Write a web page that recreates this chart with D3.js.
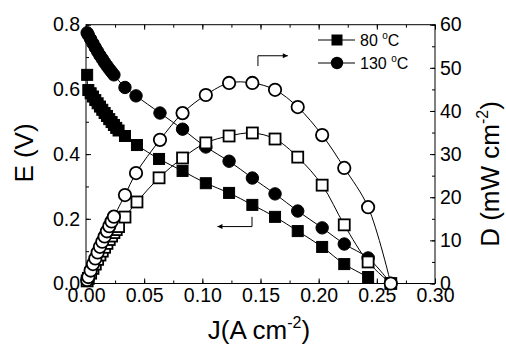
<!DOCTYPE html>
<html><head><meta charset="utf-8">
<script src="https://cdn.jsdelivr.net/npm/d3@7"></script>
<style>
body{margin:0;background:#fff;}
text{font-family:"Liberation Sans",Arial,sans-serif;fill:#000;}
</style></head>
<body>
<svg id="c" width="506" height="344"></svg>
<script>
// ---- data ----
const J_dense = [0.001,0.002,0.004,0.006,0.008,0.010,0.012,0.014,0.016,0.018,0.020,0.022,0.024,0.026,0.028];
const E80_dense = [0.645,0.598,0.588,0.578,0.567,0.557,0.547,0.537,0.527,0.518,0.508,0.499,0.490,0.481,0.473];
const P80_dense = [0.6,1.2,2.4,3.5,4.5,5.6,6.6,7.5,8.4,9.3,10.2,11.0,11.8,12.5,13.2];
const J130_dense = [0.001,0.002,0.004,0.006,0.008,0.010,0.012,0.014,0.016,0.018,0.020,0.022,0.024];
const E130_dense = [0.775,0.768,0.755,0.742,0.729,0.717,0.705,0.694,0.683,0.673,0.663,0.654,0.645];
const P130_dense = [0.8,1.5,3.0,4.5,5.8,7.2,8.5,9.7,10.9,12.1,13.3,14.4,15.5];

const J80 = [0.0335,0.0438,0.0628,0.083,0.103,0.123,0.143,0.1625,0.182,0.203,0.222,0.2425];
const E80 = [0.456,0.428,0.385,0.348,0.310,0.280,0.243,0.206,0.162,0.113,0.060,0.020];
const J80P = [0.0335,0.0438,0.0628,0.083,0.103,0.123,0.143,0.1625,0.182,0.203,0.222,0.2425,0.262];
const P80 = [15.4,18.9,24.5,29.1,32.6,34.2,34.9,33.5,29.3,22.8,13.6,5.0,0.0];

const J130 = [0.0335,0.043,0.0636,0.083,0.103,0.123,0.143,0.1625,0.182,0.203,0.222,0.2425,0.262];
const E130 = [0.606,0.580,0.527,0.477,0.422,0.378,0.326,0.277,0.224,0.172,0.122,0.079,0.0];
const P130 = [20.5,25.6,33.3,39.5,43.7,46.5,46.5,44.9,40.9,34.4,26.8,17.7,0.0];

const xTicks = [0,0.05,0.10,0.15,0.20,0.25,0.30];
const yLTicks = [0,0.2,0.4,0.6,0.8];
const yRTicks = [0,10,20,30,40,50,60];
const legendLabels = ["80 ","130 "];

// ---- layout ----
const svg = d3.select("#c");
const L=86, R=435, T=24.7, B=283.5;
const x = d3.scaleLinear().domain([0,0.3]).range([L,R]);
const yL = d3.scaleLinear().domain([0,0.8]).range([B,T]);
const yR = d3.scaleLinear().domain([0,60]).range([B,T]);

const zip = (a,b)=>a.map((v,i)=>[v,b[i]]);
const s80E = zip(J_dense,E80_dense).concat(zip(J80,E80));
const s80P = zip(J_dense,P80_dense).concat(zip(J80P,P80));
const s130E = zip(J130_dense,E130_dense).concat(zip(J130,E130));
const s130P = zip(J130_dense,P130_dense).concat(zip(J130,P130));

const fmt2 = d3.format(".2f"), fmt1 = d3.format(".1f");
const xMinor = d3.range(0,13).map(i=>i*0.025);
const yLMinor = d3.range(0,9).map(i=>i*0.1);
const yRMinor = d3.range(0,13).map(i=>i*5);

function ax(g, axis){ g.call(axis); g.select(".domain").remove(); g.selectAll("line").attr("stroke","#000").attr("stroke-width",1); }

// minor ticks
ax(svg.append("g").attr("transform",`translate(0,${B})`), d3.axisBottom(x).tickValues(xMinor).tickSize(-3).tickFormat(""));
ax(svg.append("g").attr("transform",`translate(0,${T})`), d3.axisTop(x).tickValues(xMinor).tickSize(-3).tickFormat(""));
ax(svg.append("g").attr("transform",`translate(${L},0)`), d3.axisLeft(yL).tickValues(yLMinor).tickSize(-3).tickFormat(""));
ax(svg.append("g").attr("transform",`translate(${R},0)`), d3.axisRight(yR).tickValues(yRMinor).tickSize(-3).tickFormat(""));
// major ticks
ax(svg.append("g").attr("transform",`translate(0,${B})`), d3.axisBottom(x).tickValues(xTicks).tickSize(-5).tickPadding(5).tickFormat(fmt2));
ax(svg.append("g").attr("transform",`translate(0,${T})`), d3.axisTop(x).tickValues(xTicks).tickSize(-5).tickFormat(""));
ax(svg.append("g").attr("transform",`translate(${L},0)`), d3.axisLeft(yL).tickValues(yLTicks).tickSize(-5).tickPadding(6).tickFormat(fmt1));
ax(svg.append("g").attr("transform",`translate(${R},0)`), d3.axisRight(yR).tickValues(yRTicks).tickSize(-5).tickPadding(5).tickFormat(d3.format("d")));
svg.selectAll(".tick text").attr("font-size",19.5).attr("font-family","Liberation Sans, Arial, sans-serif");

// frame
svg.append("rect").attr("x",L).attr("y",T).attr("width",R-L).attr("height",B-T)
  .attr("fill","none").attr("stroke","#000").attr("stroke-width",1);

// lines
const line = (ys)=>d3.line().x(d=>x(d[0])).y(d=>ys(d[1])).curve(d3.curveCatmullRom.alpha(0.5));
function drawLine(data, ys){
  svg.append("path").datum(data).attr("d",line(ys)).attr("fill","none").attr("stroke","#000").attr("stroke-width",1);
}
const SQ=11, CR=6.2;
function squares(data, ys, filled){
  svg.append("g").selectAll("rect").data(data).join("rect")
    .attr("x",d=>x(d[0])-SQ/2).attr("y",d=>ys(d[1])-SQ/2).attr("width",SQ).attr("height",SQ)
    .attr("fill",filled?"#000":"#fff").attr("stroke","#000").attr("stroke-width",filled?1:1.8);
}
function circles(data, ys, filled){
  svg.append("g").selectAll("circle").data(data).join("circle")
    .attr("cx",d=>x(d[0])).attr("cy",d=>ys(d[1])).attr("r",CR)
    .attr("fill",filled?"#000":"#fff").attr("stroke","#000").attr("stroke-width",filled?1:1.8);
}
drawLine(s80E,yL); drawLine(s130E,yL);
squares(s80E,yL,true); circles(s130E,yL,true);
drawLine(s80P,yR); drawLine(s130P,yR);
squares(s80P,yR,false); circles(s130P,yR,false);

// arrows
svg.append("defs").append("marker").attr("id","ah").attr("viewBox","0 0 10 10").attr("refX",10).attr("refY",5)
  .attr("markerWidth",8).attr("markerHeight",5).attr("orient","auto")
  .append("path").attr("d","M0,0 L10,5 L0,10 z").attr("fill","#000");
svg.append("path").attr("d",`M${x(0.1478)},${yR(50.4)} V${yR(52.8)} H${x(0.1735)}`)
  .attr("fill","none").attr("stroke","#000").attr("stroke-width",1).attr("marker-end","url(#ah)");
svg.append("path").attr("d",`M${x(0.1427)},${yL(0.206)} V${yL(0.176)} H${x(0.113)}`)
  .attr("fill","none").attr("stroke","#000").attr("stroke-width",1).attr("marker-end","url(#ah)");

// legend
const lg = svg.append("g");
[0,1].forEach(i=>{
  const yy = 40 + i*23;
  lg.append("line").attr("x1",318).attr("x2",355).attr("y1",yy).attr("y2",yy).attr("stroke","#000");
  if(i===0) lg.append("rect").attr("x",337-SQ/2).attr("y",yy-SQ/2).attr("width",SQ).attr("height",SQ).attr("fill","#000");
  else lg.append("circle").attr("cx",337).attr("cy",yy).attr("r",CR).attr("fill","#000");
  const t = lg.append("text").attr("x",360).attr("y",yy+6).attr("font-size",16);
  t.append("tspan").text(legendLabels[i]);
  t.append("tspan").attr("font-size",10).attr("dy",-7).text("o");
  t.append("tspan").attr("dy",7).text("C");
});

// axis titles
const tx = svg.append("text").attr("x",259).attr("y",339).attr("text-anchor","middle").attr("font-size",26);
tx.append("tspan").text("J(A cm");
tx.append("tspan").attr("font-size",16).attr("dy",-11).text("-2");
tx.append("tspan").attr("dy",11).text(")");

svg.append("text").attr("transform",`translate(33,153) rotate(-90)`).attr("text-anchor","middle")
  .attr("font-size",26).text("E (V)");

const ty = svg.append("text").attr("transform",`translate(499,174) rotate(-90)`).attr("text-anchor","middle").attr("font-size",26);
ty.append("tspan").text("D (mW cm");
ty.append("tspan").attr("font-size",16).attr("dy",-11).text("-2");
ty.append("tspan").attr("dy",11).text(")");
</script>
</body></html>
